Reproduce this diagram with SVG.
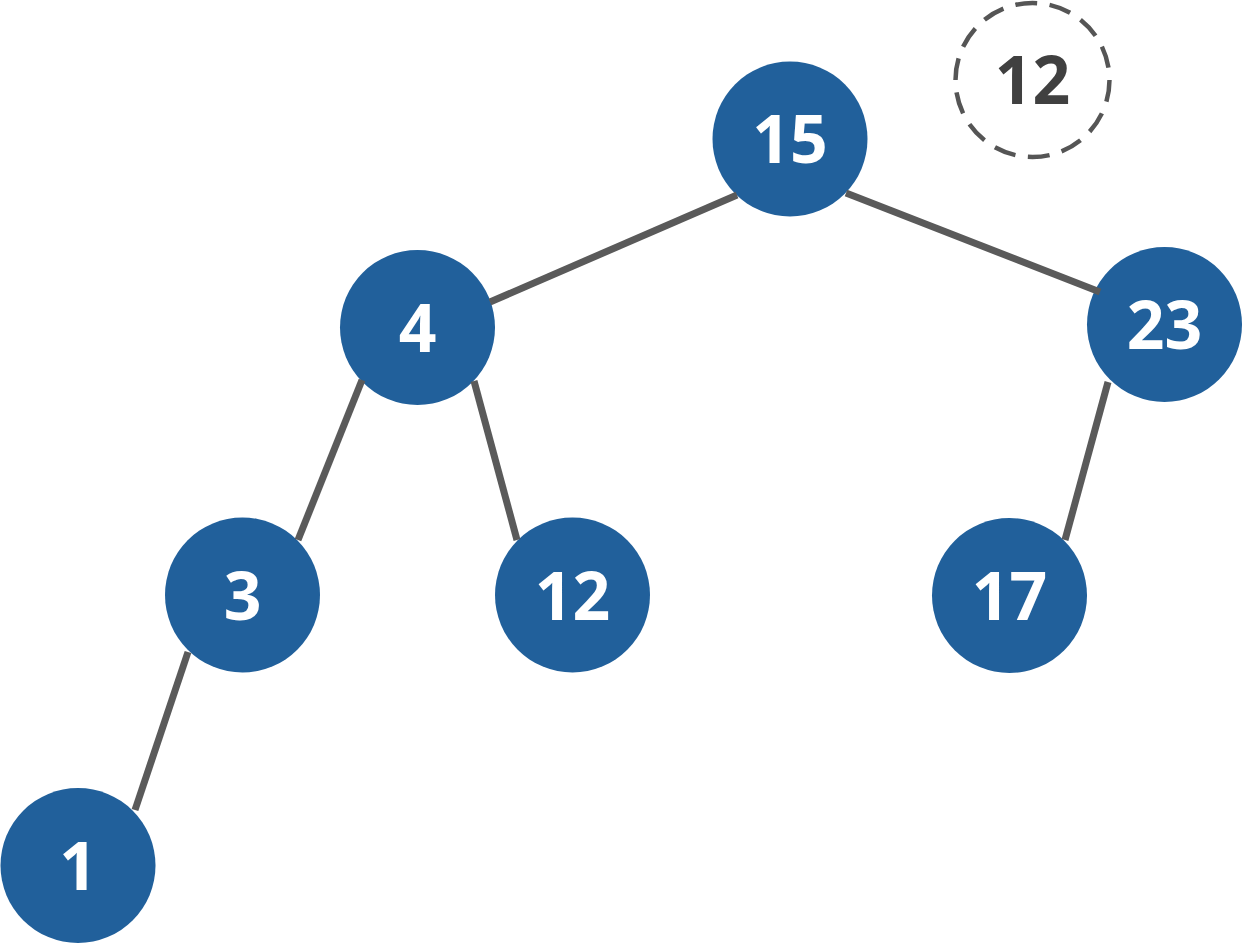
<svg xmlns="http://www.w3.org/2000/svg" width="1243" height="945" viewBox="0 0 1243 945">
<style>
.node circle{fill:#21609b}
.node text{fill:#ffffff;font-family:"Open Sans","DejaVu Sans",sans-serif;font-weight:700;font-size:66px;text-anchor:middle}
.edges line{stroke:#5a5a5a;stroke-width:7}
.ghost circle{fill:none;stroke:#555555;stroke-width:4.5;stroke-dasharray:22 12.5}
.ghost text{fill:#404040;font-family:"Open Sans","DejaVu Sans",sans-serif;font-weight:700;font-size:66px;text-anchor:middle}
</style>
<rect width="1243" height="945" fill="#ffffff"/>
<g id="ghost12" class="ghost">
<circle cx="1032.5" cy="80" r="77"/>
<text x="1032.5" y="104">12</text>
</g>
<g id="n15" class="node"><circle cx="790" cy="139" r="77.5"/><text x="790" y="163">15</text></g>
<g id="n4" class="node"><circle cx="417.5" cy="327.5" r="77.5"/><text x="417.5" y="352">4</text></g>
<g id="n23" class="node"><circle cx="1164.5" cy="324.5" r="77.5"/><text x="1164.5" y="349">23</text></g>
<g id="n3" class="node"><circle cx="242.5" cy="595" r="77.5"/><text x="242.5" y="620">3</text></g>
<g id="n12" class="node"><circle cx="572.5" cy="595" r="77.5"/><text x="572.5" y="620">12</text></g>
<g id="n17" class="node"><circle cx="1009.5" cy="595.5" r="77.5"/><text x="1009.5" y="620">17</text></g>
<g id="n1" class="node"><circle cx="78" cy="865.5" r="77.5"/><text x="78" y="890">1</text></g>
<g id="edges" class="edges">
<line x1="737" y1="195" x2="490" y2="302"/>
<line x1="846" y1="193" x2="1100" y2="292"/>
<line x1="362" y1="380" x2="298" y2="540"/>
<line x1="474" y1="381" x2="517" y2="540"/>
<line x1="1108" y1="382" x2="1065" y2="540"/>
<line x1="188" y1="652" x2="135" y2="810"/>
</g>
</svg>
